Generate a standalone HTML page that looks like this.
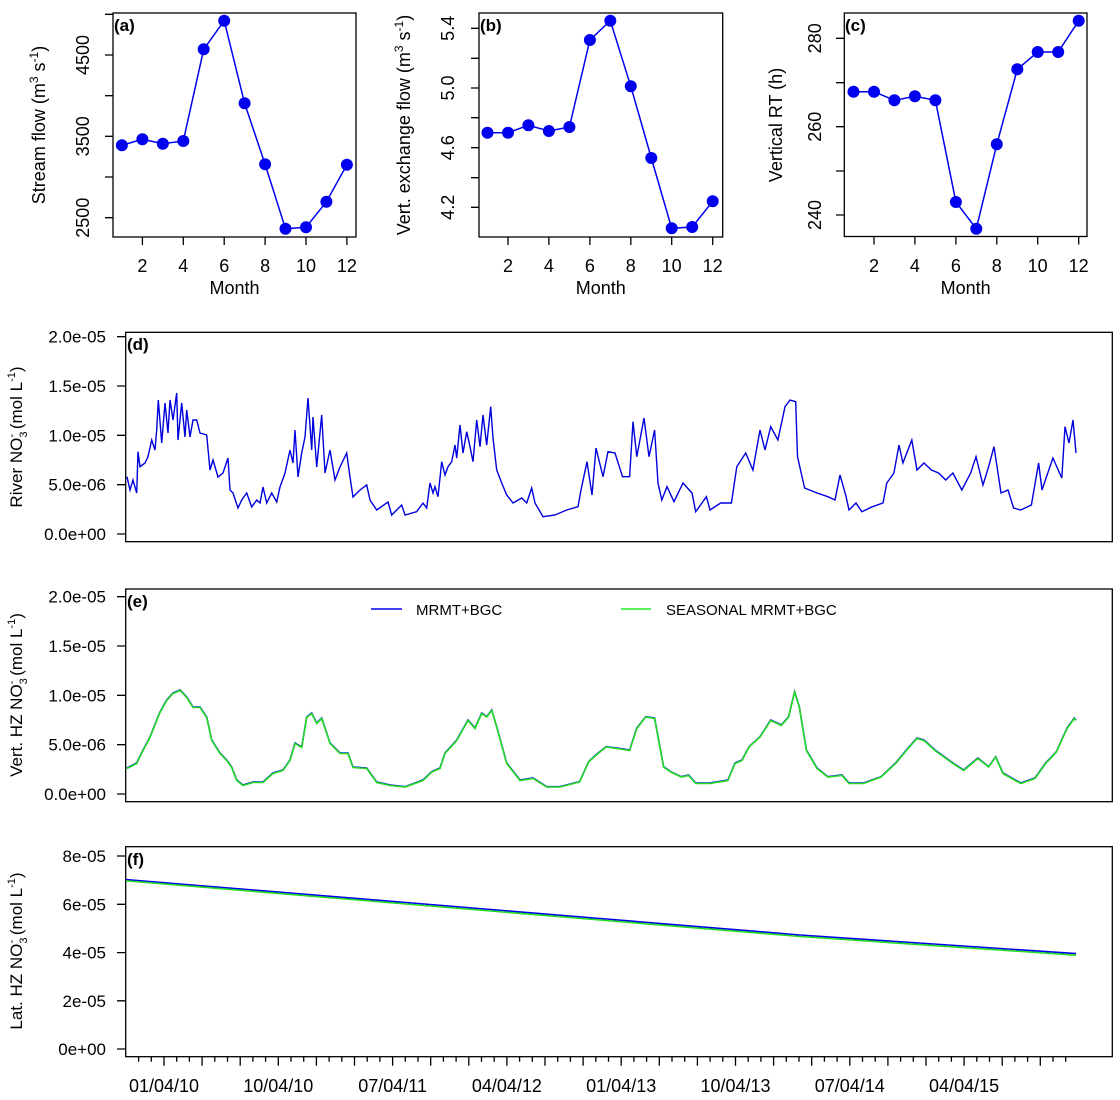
<!DOCTYPE html>
<html><head><meta charset="utf-8"><style>
html,body{margin:0;padding:0;background:#fff}
svg{display:block}
text{font-family:"Liberation Sans",Arial,sans-serif;fill:#000}
</style></head><body>
<svg width="1120" height="1100" viewBox="0 0 1120 1100" xmlns="http://www.w3.org/2000/svg">
<rect width="1120" height="1100" fill="#fff"/>
<g stroke="#000" stroke-width="1.3" fill="none">
<!-- panel a -->
<rect x="113" y="13" width="243" height="224"/>
<path d="M105 14.3H113M105 55H113M105 95.7H113M105 136.3H113M105 177H113M105 217.7H113"/>
<path d="M142.4 237v8M183.3 237v8M224.2 237v8M265.1 237v8M306 237v8M346.9 237v8"/>
<!-- panel b -->
<rect x="479" y="13" width="243.7" height="224"/>
<path d="M471 28.3H479M471 58.3H479M471 88H479M471 117.7H479M471 147.7H479M471 177.7H479M471 207.3H479"/>
<path d="M508 237v8M548.9 237v8M589.9 237v8M630.8 237v8M671.7 237v8M712.7 237v8"/>
<!-- panel c -->
<rect x="844.3" y="13" width="242.7" height="223.5"/>
<path d="M836 38.3H844.3M836 82.7H844.3M836 126.7H844.3M836 171H844.3M836 215H844.3"/>
<path d="M874 236.5v8M914.9 236.5v8M955.9 236.5v8M996.8 236.5v8M1037.7 236.5v8M1078.7 236.5v8"/>
<!-- bottom boxes -->
<rect x="125.7" y="332.3" width="986.6" height="209.4"/>
<path d="M117 336.7H125.7M117 386H125.7M117 435.3H125.7M117 484.7H125.7M117 534H125.7"/>
<rect x="125.7" y="589" width="986.6" height="212.7"/>
<path d="M117 596.7H125.7M117 646H125.7M117 695.3H125.7M117 744.7H125.7M117 794H125.7"/>
<rect x="125.7" y="846.7" width="986.6" height="210"/>
<path d="M117 856H125.7M117 904.3H125.7M117 952.6H125.7M117 1000.8H125.7M117 1049H125.7"/>
</g>
<g id="xt" stroke="#000" stroke-width="1.3"></g>

<!-- top series -->
<g fill="none" stroke="#0000ee" stroke-width="1.5">
<polyline points="121.9,145.3 142.4,139.3 162.8,143.7 183.3,141 203.7,49.3 224.2,20.7 244.6,103.3 265.1,164.3 285.5,228.7 306,227.3 326.4,201.7 346.9,164.7"/>
<polyline points="487.5,132.7 508,132.7 528.4,125.3 548.9,131 569.4,127 589.9,40 610.3,20.7 630.8,86.3 651.3,158 671.7,228.3 692.2,227 712.7,201.3"/>
<polyline points="853.5,91.7 874,91.7 894.4,100.3 914.9,96.3 935.4,100.3 955.9,202 976.3,228.7 996.8,144.3 1017.3,69.3 1037.7,52 1058.2,52 1078.7,20.7"/>
</g>
<g fill="#0000ee">
<circle cx="121.9" cy="145.3" r="6"/><circle cx="142.4" cy="139.3" r="6"/><circle cx="162.8" cy="143.7" r="6"/><circle cx="183.3" cy="141" r="6"/><circle cx="203.7" cy="49.3" r="6"/><circle cx="224.2" cy="20.7" r="6"/><circle cx="244.6" cy="103.3" r="6"/><circle cx="265.1" cy="164.3" r="6"/><circle cx="285.5" cy="228.7" r="6"/><circle cx="306" cy="227.3" r="6"/><circle cx="326.4" cy="201.7" r="6"/><circle cx="346.9" cy="164.7" r="6"/>
<circle cx="487.5" cy="132.7" r="6"/><circle cx="508" cy="132.7" r="6"/><circle cx="528.4" cy="125.3" r="6"/><circle cx="548.9" cy="131" r="6"/><circle cx="569.4" cy="127" r="6"/><circle cx="589.9" cy="40" r="6"/><circle cx="610.3" cy="20.7" r="6"/><circle cx="630.8" cy="86.3" r="6"/><circle cx="651.3" cy="158" r="6"/><circle cx="671.7" cy="228.3" r="6"/><circle cx="692.2" cy="227" r="6"/><circle cx="712.7" cy="201.3" r="6"/>
<circle cx="853.5" cy="91.7" r="6"/><circle cx="874" cy="91.7" r="6"/><circle cx="894.4" cy="100.3" r="6"/><circle cx="914.9" cy="96.3" r="6"/><circle cx="935.4" cy="100.3" r="6"/><circle cx="955.9" cy="202" r="6"/><circle cx="976.3" cy="228.7" r="6"/><circle cx="996.8" cy="144.3" r="6"/><circle cx="1017.3" cy="69.3" r="6"/><circle cx="1037.7" cy="52" r="6"/><circle cx="1058.2" cy="52" r="6"/><circle cx="1078.7" cy="20.7" r="6"/>
</g>

<!-- top text -->
<g font-size="18" text-anchor="middle">
<text x="142.4" y="272">2</text><text x="183.3" y="272">4</text><text x="224.2" y="272">6</text><text x="265.1" y="272">8</text><text x="306" y="272">10</text><text x="346.9" y="272">12</text>
<text x="234.5" y="294">Month</text>
<text x="508" y="272">2</text><text x="548.9" y="272">4</text><text x="589.9" y="272">6</text><text x="630.8" y="272">8</text><text x="671.7" y="272">10</text><text x="712.7" y="272">12</text>
<text x="600.8" y="294">Month</text>
<text x="874" y="272">2</text><text x="914.9" y="272">4</text><text x="955.9" y="272">6</text><text x="996.8" y="272">8</text><text x="1037.7" y="272">10</text><text x="1078.7" y="272">12</text>
<text x="965.6" y="294">Month</text>
<text transform="translate(89,55) rotate(-90)">4500</text>
<text transform="translate(89,136.3) rotate(-90)">3500</text>
<text transform="translate(89,217.7) rotate(-90)">2500</text>
<text transform="translate(454,28.3) rotate(-90)">5.4</text>
<text transform="translate(454,88) rotate(-90)">5.0</text>
<text transform="translate(454,147.7) rotate(-90)">4.6</text>
<text transform="translate(454,207.3) rotate(-90)">4.2</text>
<text transform="translate(821,38.3) rotate(-90)">280</text>
<text transform="translate(821,126.7) rotate(-90)">260</text>
<text transform="translate(821,215) rotate(-90)">240</text>
<text transform="translate(45,125) rotate(-90)">Stream  flow  (m<tspan dy="-7" font-size="12">3</tspan><tspan dy="7"> s</tspan><tspan dy="-7" font-size="12">-1</tspan><tspan dy="7">)</tspan></text>
<text transform="translate(410,125) rotate(-90)">Vert. exchange flow  (m<tspan dy="-7" font-size="12">3</tspan><tspan dy="7"> s</tspan><tspan dy="-7" font-size="12">-1</tspan><tspan dy="7">)</tspan></text>
<text transform="translate(782,125) rotate(-90)">Vertical RT (h)</text>
</g>
<g font-size="17" font-weight="bold">
<text x="114" y="31">(a)</text><text x="480" y="31">(b)</text><text x="845" y="31">(c)</text>
<text x="127" y="350">(d)</text><text x="127" y="607">(e)</text><text x="127" y="865">(f)</text>
</g>

<!-- bottom y labels -->
<g font-size="17" text-anchor="end">
<text x="106" y="342.7">2.0e-05</text><text x="106" y="392">1.5e-05</text><text x="106" y="441.3">1.0e-05</text><text x="106" y="490.7">5.0e-06</text><text x="106" y="540">0.0e+00</text>
<text x="106" y="602.7">2.0e-05</text><text x="106" y="652">1.5e-05</text><text x="106" y="701.3">1.0e-05</text><text x="106" y="750.7">5.0e-06</text><text x="106" y="800">0.0e+00</text>
<text x="106" y="862">8e-05</text><text x="106" y="910.3">6e-05</text><text x="106" y="958.6">4e-05</text><text x="106" y="1006.8">2e-05</text><text x="106" y="1055">0e+00</text>
</g>
<g font-size="17" text-anchor="middle">
<text transform="translate(22,437) rotate(-90)">River NO<tspan dy="5" font-size="11">3</tspan><tspan dy="-12" dx="-6" font-size="11">-</tspan><tspan dy="7"> (mol L</tspan><tspan dy="-7" font-size="11">-1</tspan><tspan dy="7">)</tspan></text>
<text transform="translate(22,695) rotate(-90)">Vert. HZ NO<tspan dy="5" font-size="11">3</tspan><tspan dy="-12" dx="-6" font-size="11">-</tspan><tspan dy="7"> (mol L</tspan><tspan dy="-7" font-size="11">-1</tspan><tspan dy="7">)</tspan></text>
<text transform="translate(22,951) rotate(-90)">Lat. HZ NO<tspan dy="5" font-size="11">3</tspan><tspan dy="-12" dx="-6" font-size="11">-</tspan><tspan dy="7"> (mol L</tspan><tspan dy="-7" font-size="11">-1</tspan><tspan dy="7">)</tspan></text>
</g>
<g font-size="18" text-anchor="middle">
<text x="164" y="1092">01/04/10</text><text x="278.3" y="1092">10/04/10</text><text x="392.6" y="1092">07/04/11</text><text x="506.9" y="1092">04/04/12</text><text x="621.2" y="1092">01/04/13</text><text x="735.5" y="1092">10/04/13</text><text x="849.8" y="1092">07/04/14</text><text x="964.1" y="1092">04/04/15</text>
</g>

<!-- legend -->
<line x1="371" y1="609" x2="402" y2="609" stroke="#0000ee" stroke-width="1.5"/>
<text x="416" y="615" font-size="15">MRMT+BGC</text>
<line x1="621" y1="609" x2="651" y2="609" stroke="#22ee22" stroke-width="1.5"/>
<text x="666" y="615" font-size="15">SEASONAL MRMT+BGC</text>

<!-- d series -->
<polyline fill="none" stroke="#0000dd" stroke-width="1.4" points="127,476.7 130,490 133,480 136.7,493 138,451.7 140,466.7 145,463 148,456.7 151.7,440 155,450 156.7,430 158.3,400 161.7,443 165,403 168,433 170,400 173,420 176.7,393 178,440 181.7,403 185,437 186.7,410 190,437 193,420 196.7,420 200,433 206.7,435 210,470 213,460 218,477 223,473 228,458 230,490 233,493 238,508 241.7,500 246.7,493 251.7,507 256.7,500 260,503 263,487 266.7,503 271.7,493 276.7,502 280,487 285,473 290,450 293,463 295,430 298,477 301.7,453 305,437 308,398 311.7,450 313,417 316.7,467 321.7,415 325,473 330,450 335,480 340,467 346.7,453 350,477 353,497 360,490 366.7,485 370,500 376.7,510 388,502 391.7,515 401.7,505 405,515 416.7,511.7 423,503 426.7,508 430,483 433,493 435,486.7 438,496.7 441.7,461.7 445,475 448,466.7 451.7,461.7 455,445 456.7,458 460,425 463,453 466.7,431.7 470,446.7 473,461.7 476.7,420 480,446.7 483,415 486.7,445 490.7,406.7 493,438 496.7,470 501.7,483 506.7,495 513,503 521.7,498 526.7,503 531.7,488 535,503 543,516.7 555,515 566.7,510 578,506.7 581,490 587,461.7 592,495 596,448 603,476.7 608,451.7 615,453 622.5,476.7 629.6,476.7 633,421.7 636.8,456.7 644,418 649,456.7 654.6,430 658,483 661.8,500 667,486.7 674,501.7 683,483 692,493 695.7,511.7 706.4,496.7 710,510 720.7,503 731.4,503 736.8,466.7 745.7,453 752.9,470 760,430 765,450 770.7,426.7 777.9,440 785,406.7 790,400 795.7,401.7 797.5,456.7 804.6,488 817,493 827.9,496.7 835,500 840,475 845.7,495 849,510 856,503 861.8,511.7 872.5,506.7 883,503 886.8,483 893.9,473 899,445 902.9,463 911.8,440 917,470 924,463 931.4,470 938.6,473 945.7,480 952.9,473 961.8,490 970.7,473 976,456.7 983,485 988.6,466.7 994,446.7 1001,493 1008,490 1013.6,508 1020.7,510 1031.4,505 1038.6,463 1042,490 1052.9,458 1061.8,478 1065,426.7 1069,443 1073,420 1076,453"/>

<!-- e series -->
<g fill="none" stroke-width="1.6">
<polyline id="es" stroke="#0000ee" points="127,768 136.7,763 143,750 150,737 156.7,720 160,712 166.7,700 173,693 180,690 186.7,697 193,707 200,707 206.7,717 211.7,740 220,753 226.7,760 231.7,767 236.7,780 243,785 253,782 263,782 273,773 283,770 290,760 295,743 301.7,747 306.7,717 311.7,713 316.7,723 321.7,718 330,743 340,753 348,753 353,767 366.7,768 376.7,782 390,785 405,786.7 423,780 431.7,771.7 440,768 445,753 456.7,740 468,720 475,728 481.7,713 486.7,716.7 491.7,710 496.7,726.7 506.7,763 520,780 533,778 546.7,786.7 560,786.7 579.6,781.7 588.6,761.7 595.7,755 606,746.7 617,748 629.6,750 636.8,728 645.7,716.7 654.6,718 663.6,766.7 670.7,771.7 681.4,776.7 688.6,775 695.7,783 710,783 727.9,780 735,763 742,760 749,746.7 760,736.7 770.7,720 781.4,725 788.6,716.7 794.6,691.7 799.3,706.7 806.4,750 817,768 827.9,776.7 842,775 849,783 863.6,783 881,776.7 895.7,763 906.4,750 917,738 924,740 935,750 952.9,763 963.6,770 977.9,758 988.6,766.7 995.7,756.7 1002.9,773 1020.7,783 1035,778 1045.7,763 1056.4,751.7 1067,728 1074.3,718 1076,720"/>
<polyline stroke="#22dd22" points="127,768.5 136.7,763.5 143,750.5 150,737.5 156.7,720.5 160,712.5 166.7,700.5 173,693.5 180,690.5 186.7,697.5 193,707.5 200,707.5 206.7,717.5 211.7,740.5 220,753.5 226.7,760.5 231.7,767.5 236.7,780.5 243,785.5 253,782.5 263,782.5 273,773.5 283,770.5 290,760.5 295,743.5 301.7,747.5 306.7,717.5 311.7,713.5 316.7,723.5 321.7,718.5 330,743.5 340,753.5 348,753.5 353,767.5 366.7,768.5 376.7,782.5 390,785.5 405,787 423,780.5 431.7,772 440,768.5 445,753.5 456.7,740.5 468,720.5 475,728.5 481.7,713.5 486.7,717 491.7,710.5 496.7,727 506.7,763.5 520,780.5 533,778.5 546.7,787 560,787 579.6,782 588.6,762 595.7,755.5 606,747 617,748.5 629.6,750.5 636.8,728.5 645.7,717 654.6,718.5 663.6,767 670.7,772 681.4,777 688.6,775.5 695.7,783.5 710,783.5 727.9,780.5 735,763.5 742,760.5 749,747 760,737 770.7,720.5 781.4,725.5 788.6,717 794.6,692 799.3,707 806.4,750.5 817,768.5 827.9,777 842,775.5 849,783.5 863.6,783.5 881,777 895.7,763.5 906.4,750.5 917,738.5 924,740.5 935,750.5 952.9,763.5 963.6,770.5 977.9,758.5 988.6,767 995.7,757 1002.9,773.5 1020.7,783.5 1035,778.5 1045.7,763.5 1056.4,752 1067,728.5 1074.3,718.5 1076,720.5"/>
</g>

<!-- f series -->
<polyline fill="none" stroke="#0000ee" stroke-width="1.6" points="126,879.6 400,902 600,918.5 800,935 1076,953.6"/>
<polyline fill="none" stroke="#22dd22" stroke-width="1.6" points="126,880.8 400,903.5 600,920 800,936.5 1076,955.2"/>

<!-- f x ticks -->
<g stroke="#000" stroke-width="1.3">
<path d="M164 1056.7v9M202.1 1056.7v9M240.2 1056.7v9M278.3 1056.7v9M316.4 1056.7v9M354.5 1056.7v9M392.6 1056.7v9M430.7 1056.7v9M468.8 1056.7v9M506.9 1056.7v9M545 1056.7v9M583.1 1056.7v9M621.2 1056.7v9M659.3 1056.7v9M697.4 1056.7v9M735.5 1056.7v9M773.6 1056.7v9M811.7 1056.7v9M849.8 1056.7v9M887.9 1056.7v9M926 1056.7v9M964.1 1056.7v9M1002.2 1056.7v9M1040.3 1056.7v9"/>
<path d="M138.6 1056.7v5M151.3 1056.7v5M176.7 1056.7v5M189.4 1056.7v5M214.8 1056.7v5M227.5 1056.7v5M252.9 1056.7v5M265.6 1056.7v5M291 1056.7v5M303.7 1056.7v5M329.1 1056.7v5M341.8 1056.7v5M367.2 1056.7v5M379.9 1056.7v5M405.3 1056.7v5M418 1056.7v5M443.4 1056.7v5M456.1 1056.7v5M481.5 1056.7v5M494.2 1056.7v5M519.6 1056.7v5M532.3 1056.7v5M557.7 1056.7v5M570.4 1056.7v5M595.8 1056.7v5M608.5 1056.7v5M633.9 1056.7v5M646.6 1056.7v5M672 1056.7v5M684.7 1056.7v5M710.1 1056.7v5M722.8 1056.7v5M748.2 1056.7v5M760.9 1056.7v5M786.3 1056.7v5M799 1056.7v5M824.4 1056.7v5M837.1 1056.7v5M862.5 1056.7v5M875.2 1056.7v5M900.6 1056.7v5M913.3 1056.7v5M938.7 1056.7v5M951.4 1056.7v5M976.8 1056.7v5M989.5 1056.7v5M1014.9 1056.7v5M1027.6 1056.7v5M1053 1056.7v5M1065.7 1056.7v5"/>
</g>
</svg>
</body></html>
